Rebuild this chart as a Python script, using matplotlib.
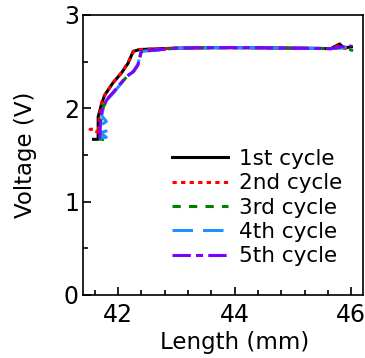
import matplotlib
matplotlib.use("Agg")
import matplotlib.pyplot as plt
from matplotlib.ticker import MultipleLocator

plt.rcParams['font.family'] = ['DejaVu Sans']

labels = ["1st cycle", "2nd cycle", "3rd cycle", "4th cycle", "5th cycle"]
colors = ["#000000", "#ff0000", "#008000", "#1e90ff", "#8000ff"]

x1 = [41.58, 41.66, 41.66, 41.72, 41.77, 41.91, 42.06, 42.17, 42.26, 42.37, 43.0, 43.6, 44.2, 45.0, 45.65, 45.8, 45.87, 46.0]
y1 = [1.668, 1.668, 1.91, 2.05, 2.14, 2.27, 2.38, 2.48, 2.61, 2.63, 2.645, 2.65, 2.65, 2.645, 2.64, 2.69, 2.645, 2.66]

x2 = [41.68, 41.52, 41.67, 41.68, 41.72, 41.78, 41.92, 42.07, 42.17, 42.27, 42.37, 43.0, 43.6, 44.2, 45.0, 45.65, 45.8, 45.9, 46.0]
y2 = [1.74, 1.775, 1.78, 1.93, 2.06, 2.15, 2.28, 2.39, 2.49, 2.61, 2.63, 2.645, 2.65, 2.65, 2.645, 2.64, 2.675, 2.645, 2.66]

x3 = [41.76, 41.69, 41.70, 41.75, 41.84, 41.98, 42.15, 42.27, 42.34, 42.40, 43.0, 43.6, 44.2, 45.0, 45.65, 45.85, 46.03]
y3 = [1.665, 1.67, 1.85, 2.02, 2.11, 2.21, 2.34, 2.40, 2.47, 2.61, 2.645, 2.65, 2.65, 2.645, 2.64, 2.65, 2.62]

x4 = [41.70, 41.80, 41.70, 41.82, 41.71, 41.80, 41.72, 41.75, 41.84, 41.98, 42.15, 42.27, 42.34, 42.40, 43.0, 43.6, 44.2, 45.0, 45.65, 45.85, 46.0]
y4 = [1.68, 1.69, 1.74, 1.76, 1.82, 1.86, 1.92, 2.02, 2.11, 2.21, 2.34, 2.40, 2.47, 2.61, 2.645, 2.65, 2.65, 2.645, 2.64, 2.65, 2.67]

x5 = [41.69, 41.70, 41.74, 41.83, 41.97, 42.14, 42.26, 42.34, 42.40, 43.0, 43.6, 44.2, 45.0, 45.65, 45.85, 46.0]
y5 = [1.68, 1.88, 2.02, 2.11, 2.21, 2.34, 2.39, 2.46, 2.61, 2.645, 2.65, 2.65, 2.645, 2.64, 2.66, 2.67]

xs = [x1, x2, x3, x4, x5]
ys = [y1, y2, y3, y4, y5]
styles = ["-", (0, (1.4, 1.4)), (0, (2.7, 2.7)), (0, (6.7, 3.3)), (0, (6, 1.7, 2.3, 1.7))]

fig = plt.figure(figsize=(3.65, 3.58), dpi=100)
ax = fig.add_axes([83/365, 1 - 295/358, (363-83)/365, (295-15)/358])

for x, y, c, ls, lab in zip(xs, ys, colors, styles, labels):
    ax.plot(x, y, color=c, linestyle=ls, linewidth=2.2, label=lab)

ax.set_xlim(41.4, 46.2)
ax.set_ylim(0, 3)
ax.xaxis.set_major_locator(MultipleLocator(2))
ax.xaxis.set_minor_locator(MultipleLocator(0.4))
ax.yaxis.set_major_locator(MultipleLocator(1))
ax.yaxis.set_minor_locator(MultipleLocator(0.5))
ax.tick_params(which='both', direction='in', labelsize=17, width=1.2)
ax.tick_params(which='major', length=6)
ax.tick_params(which='minor', length=3.5)
ax.tick_params(axis='x', which='major', pad=6)
ax.tick_params(axis='y', which='major', pad=3)
for s in ax.spines.values():
    s.set_linewidth(1.2)

ax.set_xlabel("Length (mm)", fontsize=16.5)
ax.set_ylabel("Voltage (V)", fontsize=16.5)
ax.xaxis.set_label_coords(0.541, -0.128)
ax.yaxis.set_label_coords(-0.165, 0.5)

ax.legend(loc='upper left', frameon=False, fontsize=15.5, handlelength=2.6,
          labelspacing=0.2, handletextpad=0.5, borderpad=0, borderaxespad=0,
          bbox_to_anchor=((172-83)/280, (295-149)/280))

fig.savefig("out.png", dpi=100)
